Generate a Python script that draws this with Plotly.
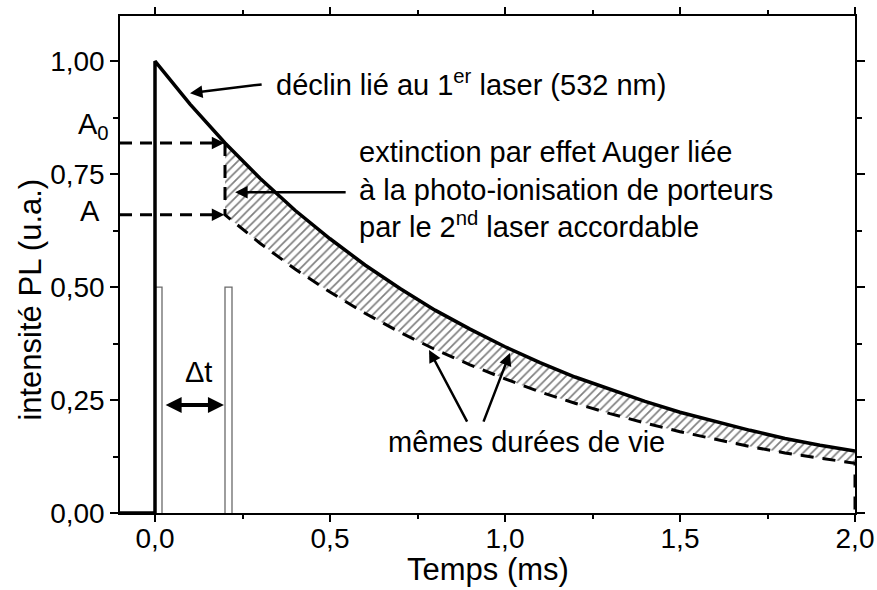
import plotly.graph_objects as go

# Photoluminescence decay after the first laser pulse (532 nm)
t_decay = [0.0, 0.1, 0.2, 0.3, 0.4, 0.5, 0.6, 0.7, 0.8, 0.9, 1.0,
           1.1, 1.2, 1.3, 1.4, 1.5, 1.6, 1.7, 1.8, 1.9, 2.0]
pl_first = [1.000, 0.905, 0.819, 0.741, 0.670, 0.607, 0.549, 0.497, 0.449, 0.407, 0.368,
            0.333, 0.301, 0.273, 0.247, 0.223, 0.202, 0.183, 0.165, 0.150, 0.137]

# Decay after Auger quenching by the second (tunable) laser pulse
t_quench = [0.2, 0.3, 0.4, 0.5, 0.6, 0.7, 0.8, 0.9, 1.0,
            1.1, 1.2, 1.3, 1.4, 1.5, 1.6, 1.7, 1.8, 1.9, 2.0]
pl_quenched = [0.660, 0.597, 0.540, 0.489, 0.442, 0.400, 0.362, 0.328, 0.297,
               0.268, 0.243, 0.220, 0.199, 0.180, 0.163, 0.147, 0.133, 0.121, 0.110]

# Laser pulses (start time, width, height)
pulse_starts = [0.0, 0.2]
pulse_width = 0.02
pulse_height = 0.5

# Intensities just before / after the second pulse
level_A0 = 0.819
level_A = 0.660

x_tickvals = [0.0, 0.5, 1.0, 1.5, 2.0]
x_ticktext = ["0,0", "0,5", "1,0", "1,5", "2,0"]
x_minorvals = [0.25, 0.75, 1.25, 1.75]
y_tickvals = [0.0, 0.25, 0.5, 0.75, 1.0]
y_ticktext = ["0,00", "0,25", "0,50", "0,75", "1,00"]
y_minorvals = [0.125, 0.375, 0.625, 0.875]

x_range = [-0.1, 2.0]
y_range = [0.0, 1.1]

FONT = "Arial, 'Liberation Sans', sans-serif"
fig = go.Figure()

# pulse outlines
for ts in pulse_starts:
    fig.add_trace(go.Scatter(
        x=[ts, ts, ts + pulse_width, ts + pulse_width],
        y=[0, pulse_height, pulse_height, 0],
        mode="lines", line=dict(color="#6a6a6a", width=1.3),
        hoverinfo="skip", showlegend=False))

# hatched area between the two decays
fig.add_trace(go.Scatter(
    x=t_decay[2:] + t_quench[::-1],
    y=pl_first[2:] + pl_quenched[::-1],
    mode="lines", line=dict(width=0), fill="toself",
    fillcolor="white",
    fillpattern=dict(shape="/", size=6, solidity=0.28,
                     fgcolor="black", bgcolor="white"),
    hoverinfo="skip", showlegend=False))

# dashed guides at A0 and A
for lvl in [level_A0, level_A]:
    fig.add_trace(go.Scatter(
        x=[x_range[0], 0.17], y=[lvl, lvl], mode="lines",
        line=dict(color="black", width=3, dash="12px,8px"),
        hoverinfo="skip", showlegend=False))

# quenched decay (dashed)
fig.add_trace(go.Scatter(
    x=[t_quench[0]] + t_quench + [t_quench[-1]],
    y=[level_A0] + pl_quenched + [0],
    mode="lines", line=dict(color="black", width=3, dash="13px,9px"),
    hoverinfo="skip", showlegend=False))

# unperturbed decay (solid)
fig.add_trace(go.Scatter(
    x=[x_range[0], 0.0] + t_decay,
    y=[0, 0] + pl_first,
    mode="lines", line=dict(color="black", width=3.5),
    hoverinfo="skip", showlegend=False))

tickfont = dict(family=FONT, size=28, color="black")
fig.update_layout(
    width=877, height=590,
    margin=dict(l=120, r=22, t=16, b=77),
    paper_bgcolor="white", plot_bgcolor="white",
    showlegend=False,
    xaxis=dict(range=x_range, tickvals=x_tickvals, ticktext=x_ticktext,
               ticks="outside", ticklen=7, tickwidth=1.5, tickcolor="black",
               ticklabelstandoff=-7, automargin=False,
               minor=dict(tickvals=x_minorvals, ticks="outside", ticklen=4,
                          tickwidth=1.5, tickcolor="black"),
               showline=True, linecolor="black", linewidth=1.5, mirror="allticks",
               showgrid=False, zeroline=False, tickfont=tickfont),
    yaxis=dict(range=y_range, tickvals=y_tickvals, ticktext=y_ticktext,
               ticks="outside", ticklen=8, tickwidth=1.5, tickcolor="black",
               automargin=False,
               minor=dict(tickvals=y_minorvals, ticks="outside", ticklen=5,
                          tickwidth=1.5, tickcolor="black"),
               showline=True, linecolor="black", linewidth=1.5, mirror="allticks",
               showgrid=False, zeroline=False, tickfont=tickfont),
)

tfont = dict(family=FONT, size=29, color="black")
title_font = dict(family=FONT, size=31, color="black")
ann = []
# axis titles
ann.append(dict(text="Temps (ms)", xref="paper", yref="paper", x=0.5, y=-0.114,
                xanchor="center", yanchor="middle", showarrow=False, font=title_font))
ann.append(dict(text="intensité PL (u.a.)", xref="paper", yref="paper", x=-0.122,
                y=0.43, xanchor="center", yanchor="middle", textangle=-90,
                showarrow=False, font=title_font))
# A0 / A labels on the left
ann.append(dict(text="A<sub>0</sub>", xref="paper", yref="y", x=-0.012, y=level_A0,
                xanchor="right", yanchor="middle", yshift=17, showarrow=False, font=tfont))
ann.append(dict(text="A", xref="paper", yref="y", x=-0.024, y=level_A,
                xanchor="right", yanchor="middle", yshift=4, showarrow=False, font=tfont))
# arrowheads at the end of the dashed guides
for lvl in [level_A0, level_A]:
    ann.append(dict(text="", x=0.198, y=lvl, ax=0.16, ay=lvl, xref="x", yref="y",
                    axref="x", ayref="y", showarrow=True, arrowhead=2,
                    arrowsize=1.0, arrowwidth=2.5, arrowcolor="black"))
# first laser decay
ann.append(dict(text="déclin lié au 1<sup>er</sup> laser (532 nm)", x=0.34, y=0.952,
                xref="x", yref="y", xanchor="left", yanchor="middle",
                showarrow=False, font=tfont))
ann.append(dict(text="", x=0.100, y=0.929, ax=0.309, ay=0.949, xref="x", yref="y",
                axref="x", ayref="y", showarrow=True, arrowhead=2, arrowsize=1.0,
                arrowwidth=2.5, arrowcolor="black"))
# Auger quenching
ann.append(dict(text="extinction par effet Auger liée<br>à la photo-ionisation de porteurs"
                     "<br>par le 2<sup>nd</sup> laser accordable",
                x=0.578, y=0.715, xref="x", yref="y", xanchor="left", yanchor="middle",
                align="left", showarrow=False, font=tfont))
ann.append(dict(text="", x=0.229, y=0.710, ax=0.549, ay=0.710, xref="x", yref="y",
                axref="x", ayref="y", showarrow=True, arrowhead=2, arrowsize=1.0,
                arrowwidth=2.5, arrowcolor="black"))
# delay between pulses
ann.append(dict(text="Δt", x=0.123, y=0.312, xref="x", yref="y", xanchor="center",
                yanchor="middle", showarrow=False, font=tfont))
ann.append(dict(text="", x=0.197, y=0.239, ax=0.026, ay=0.239, xref="x", yref="y",
                axref="x", ayref="y", showarrow=True, arrowhead=2, arrowside="end+start",
                arrowsize=0.8, arrowwidth=4, arrowcolor="black"))
# same lifetimes
ann.append(dict(text="mêmes durées de vie", x=1.06, y=0.157, xref="x", yref="y",
                xanchor="center", yanchor="middle", showarrow=False, font=tfont))
ann.append(dict(text="", x=0.783, y=0.361, ax=0.894, ay=0.199, xref="x", yref="y",
                axref="x", ayref="y", showarrow=True, arrowhead=2, arrowsize=1.0,
                arrowwidth=2.5, arrowcolor="black"))
ann.append(dict(text="", x=1.014, y=0.354, ax=0.937, ay=0.199, xref="x", yref="y",
                axref="x", ayref="y", showarrow=True, arrowhead=2, arrowsize=1.0,
                arrowwidth=2.5, arrowcolor="black"))
fig.update_layout(annotations=ann)

fig.write_html("out.html")
